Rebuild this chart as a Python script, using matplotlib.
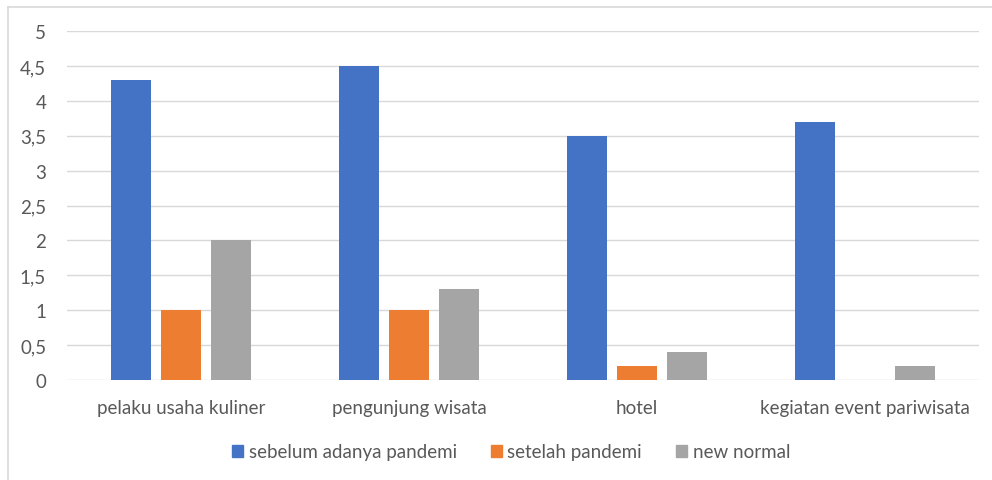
import matplotlib
matplotlib.use("Agg")
import matplotlib.pyplot as plt
import numpy as np
from matplotlib.lines import Line2D
from matplotlib.patches import Patch

categories = ["pelaku usaha kuliner", "pengunjung wisata", "hotel", "kegiatan event pariwisata"]
series_names = ["sebelum adanya pandemi", "setelah pandemi", "new normal"]
sebelum = [4.3, 4.5, 3.5, 3.7]
setelah = [1.0, 1.0, 0.2, 0.0]
new_normal = [2.0, 1.3, 0.4, 0.2]
yticks = [0, 0.5, 1, 1.5, 2, 2.5, 3, 3.5, 4, 4.5, 5]
ytick_labels = ["0", "0,5", "1", "1,5", "2", "2,5", "3", "3,5", "4", "4,5", "5"]

colors = ["#4472C4", "#ED7D31", "#A5A5A5"]
text_color = "#595959"
plt.rcParams['font.family'] = ['Lato', 'DejaVu Sans']

W, H = 992, 481
fig = plt.figure(figsize=(W / 100, H / 100), dpi=100)
ax = fig.add_axes([67 / W, 1 - 381 / H, (979 - 67) / W, (381 - 32) / H])

x = np.arange(len(categories))
bw = 0.175
step = 0.221
for i, (vals, name) in enumerate(zip([sebelum, setelah, new_normal], series_names)):
    ax.bar(x + (i - 1) * step, vals, width=bw, color=colors[i], label=name, zorder=3)

ax.set_xlim(-0.5, len(categories) - 0.5)
ax.set_ylim(0, 5)
ax.set_yticks(yticks)
ax.set_yticklabels(ytick_labels)
ax.set_xticks(x)
ax.set_xticklabels(categories)
ax.grid(axis='y', color='#D9D9D9', linewidth=1, zorder=0)
for s in ax.spines.values():
    s.set_visible(False)
ax.tick_params(axis='both', length=0, colors=text_color, labelsize=13.5)
ax.tick_params(axis='y', pad=15)
ax.tick_params(axis='x', pad=14)

handles = [Patch(color=c) for c in colors]
fig.legend(handles, series_names, loc='center', bbox_to_anchor=(511 / W, 1 - 453 / H),
           ncol=3, frameon=False, fontsize=13.5, labelcolor=text_color,
           handlelength=0.6, handleheight=0.6, handletextpad=0.3, columnspacing=1.8)

fig.add_artist(Line2D([8 / W, 1], [1 - 8 / H, 1 - 8 / H], color='#D9D9D9', linewidth=1.2, transform=fig.transFigure))
fig.add_artist(Line2D([8 / W, 8 / W], [0, 1 - 8 / H], color='#D9D9D9', linewidth=1.2, transform=fig.transFigure))

fig.savefig("out.png", dpi=100)
